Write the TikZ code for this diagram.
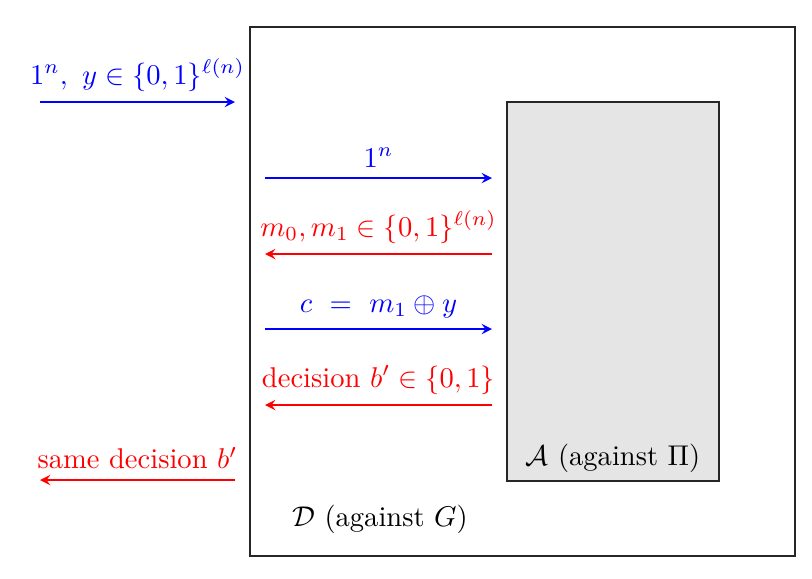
\documentclass[tikz,border=0pt]{standalone}
\usepackage{amsmath,amssymb}
\usetikzlibrary{arrows,positioning}
\tikzset{
  machine/.style = {draw=black!85, thin},
  inner/.style   = {machine, fill=gray!20},
  tomsg/.style   = {->, semithick, draw=blue, text=blue},
  frommsg/.style = {->, semithick, draw=red, text=red},
  lbl/.style     = {above, inner sep=3.5pt}
}

\begin{document}
\begin{tikzpicture}[x=0.35pt, y=-0.35pt, >=stealth]
\useasboundingbox (0,0) rectangle (812,578);

% the two machines
\coordinate (D-nw) at (250,27);
\coordinate (D-se) at (795,556);
\coordinate (A-nw) at (507,102);
\coordinate (A-se) at (719,481);
\draw[machine] (D-nw) rectangle (D-se);
\draw[inner] (A-nw) rectangle (A-se);

\node (Alabel) at (613,458) {$\mathcal{A}$ (against $\Pi$)};
\node (Dlabel) at (380,519) {$\mathcal{D}$ (against $G$)};

% outside world
\coordinate (in-l)  at (40,102);
\coordinate (in-r)  at (235,102);
\coordinate (out-l) at (40,480);
\coordinate (out-r) at (235,480);

% between D and A
\coordinate (m1-l) at (265,178);  \coordinate (m1-r) at (492,178);
\coordinate (m2-l) at (265,254);  \coordinate (m2-r) at (492,254);
\coordinate (m3-l) at (265,329);  \coordinate (m3-r) at (492,329);
\coordinate (m4-l) at (265,405);  \coordinate (m4-r) at (492,405);

\draw[tomsg] (in-l) -- node[lbl] {$1^n,\ y \in \{0,1\}^{\ell(n)}$} (in-r);
\draw[tomsg] (m1-l) -- node[lbl] {$1^n$} (m1-r);
\draw[frommsg] (m2-r) -- node[lbl] {$m_0, m_1 \in \{0,1\}^{\ell(n)}$} (m2-l);
\draw[tomsg] (m3-l) -- node[lbl] {$c\ =\ m_1 \oplus y$} (m3-r);
\draw[frommsg] (m4-r) -- node[lbl] {decision $b' \in \{0,1\}$} (m4-l);
\draw[frommsg] (out-r) -- node[lbl] {same decision $b'$} (out-l);
\end{tikzpicture}
\end{document}
